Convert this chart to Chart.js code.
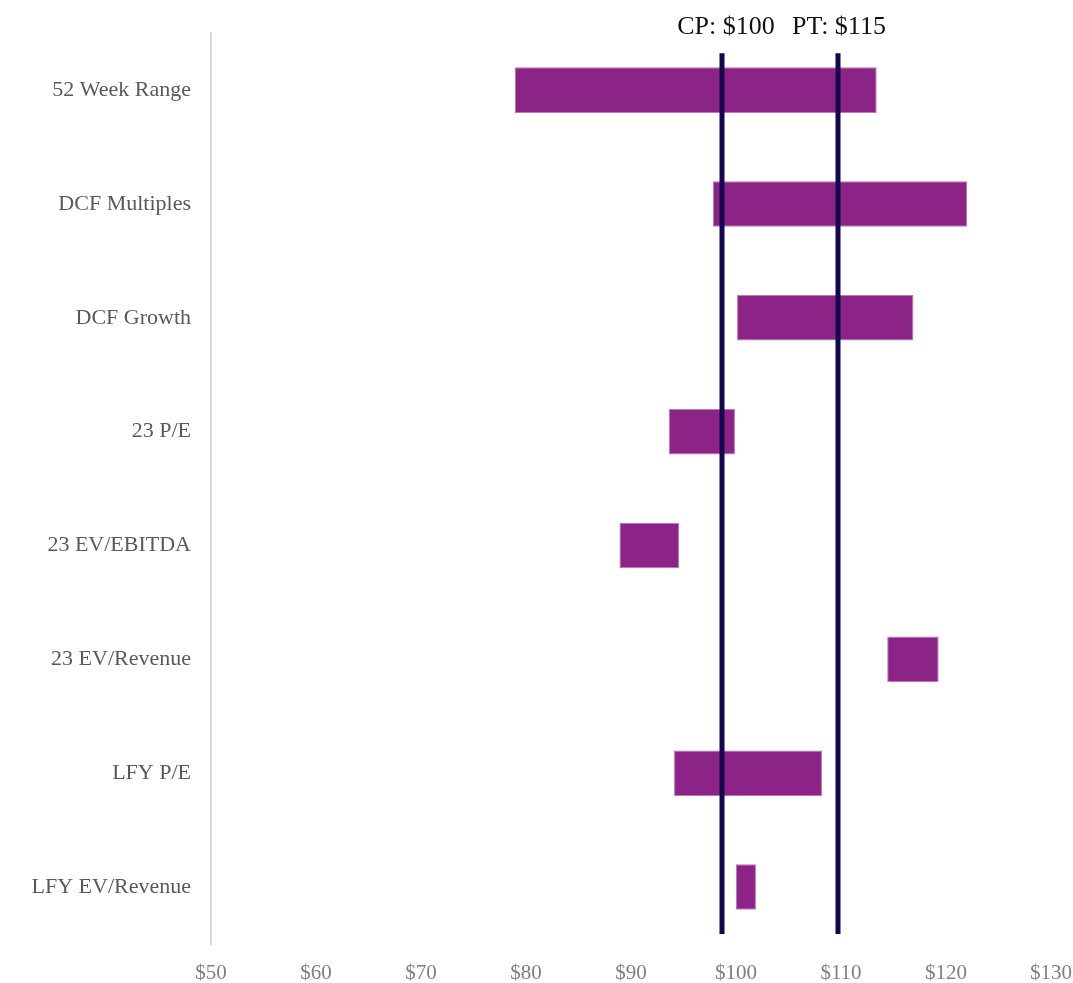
<!DOCTYPE html>
<html>
<head>
<meta charset="utf-8">
<script src="https://cdn.jsdelivr.net/npm/chart.js@4"></script>
<style>
  html, body { margin: 0; padding: 0; background: #fff; }
  #wrap { width: 1073px; height: 983px; position: relative; }
</style>
</head>
<body>
<div id="wrap"><canvas id="footballField"></canvas></div>
<script>
// 밸류에이션 구간 (football field)
const categories = ['52 Week Range', 'DCF Multiples', 'DCF Growth', '23 P/E',
                    '23 EV/EBITDA', '23 EV/Revenue', 'LFY P/E', 'LFY EV/Revenue'];
const lowValues  = [78.95, 97.8, 100.1, 93.6, 88.9, 114.4, 94.1, 100.0];
const highValues = [113.4, 122.0, 116.9, 99.9, 94.6, 119.3, 108.2, 101.9];

// 기준선: 현재가 / 목표가 (위치는 그림 기준)
const refLabels = ['CP: $100', 'PT: $115'];
const refValues = [98.7, 109.7];

const xTicks = [50, 60, 70, 80, 90, 100, 110, 120, 130];

const FONT = "'Liberation Serif', 'DejaVu Serif', serif";

// 세로 기준선 + 상단 라벨
const refLinePlugin = {
    id: 'refLines',
    afterDatasetsDraw(chart) {
        const { ctx, chartArea, scales: { x } } = chart;
        ctx.save();
        refValues.forEach((v, i) => {
            const px = Math.round(x.getPixelForValue(v));
            ctx.strokeStyle = '#14064f';
            ctx.lineWidth = 5;
            ctx.beginPath();
            ctx.moveTo(px, chartArea.top + 20);
            ctx.lineTo(px, chartArea.bottom - 10);
            ctx.stroke();

            ctx.fillStyle = '#111';
            ctx.font = `26px ${FONT}`;
            ctx.textAlign = 'center';
            ctx.textBaseline = 'alphabetic';
            ctx.fillText(refLabels[i], px + (i === 0 ? 4 : 1), chartArea.top + 1);
        });
        ctx.restore();
    }
};

new Chart(document.getElementById('footballField').getContext('2d'), {
    type: 'bar',
    data: {
        labels: categories,
        datasets: [{
            data: lowValues.map((lo, i) => [lo, highValues[i]]),
            backgroundColor: '#8c2387',
            borderColor: '#b979b5',
            borderWidth: 1,
            borderSkipped: false,
            barPercentage: 0.4,
            categoryPercentage: 1.0,
        }]
    },
    options: {
        indexAxis: 'y',
        responsive: true,
        maintainAspectRatio: false,
        animation: false,
        layout: { padding: { top: 32, right: 22, left: 0, bottom: 0 } },
        plugins: { legend: { display: false }, tooltip: { enabled: false } },
        scales: {
            x: {
                min: 50,
                max: 130,
                afterBuildTicks: s => { s.ticks = xTicks.map(v => ({ value: v })); },
                afterFit: s => { s.height = 39; s.paddingLeft = 0; s.paddingRight = 0; },
                grid: { display: false, drawTicks: false },
                border: { display: false },
                ticks: {
                    padding: 17,
                    color: '#7f7f7f',
                    font: { family: FONT, size: 21 },
                    callback: v => '$' + v,
                }
            },
            y: {
                afterFit: s => { s.width = 211; },
                grid: { display: false, drawTicks: false },
                border: { display: true, color: '#d9d9d9', width: 2 },
                ticks: {
                    padding: 20,
                    color: '#595959',
                    font: { family: FONT, size: 22 },
                }
            }
        }
    },
    plugins: [refLinePlugin]
});
</script>
</body>
</html>
